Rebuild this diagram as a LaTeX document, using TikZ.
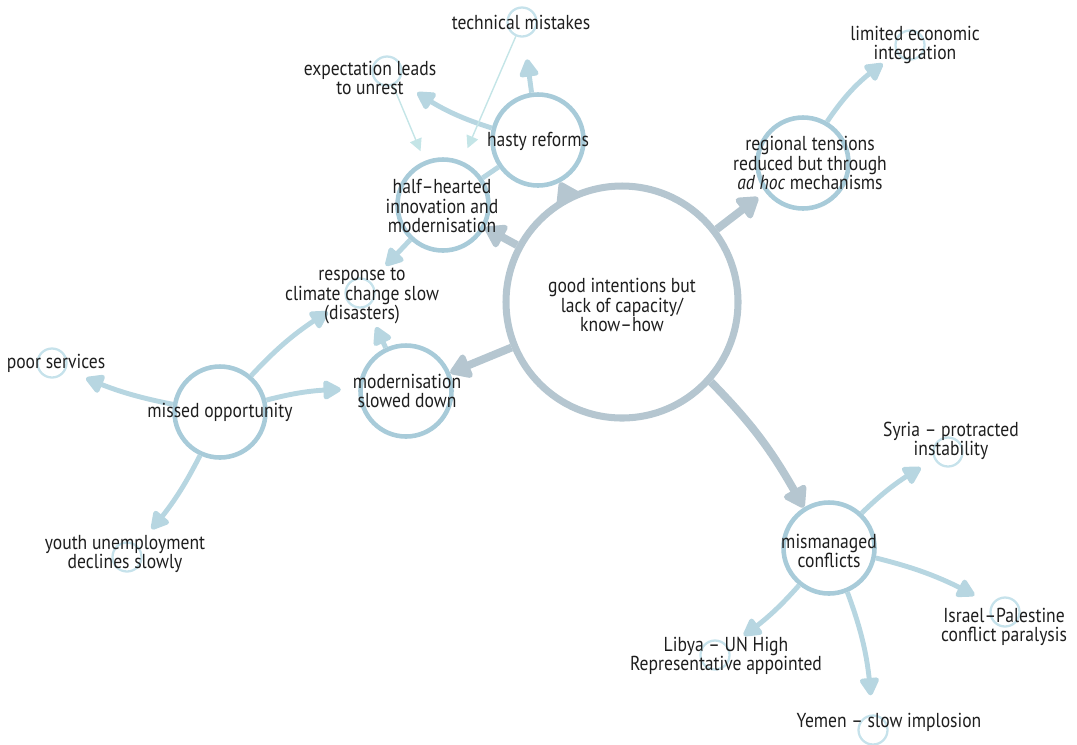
\documentclass[tikz,border=0pt]{standalone}
\usepackage{fontspec}
\setmainfont{PT Sans}[FakeStretch=0.87]
\usetikzlibrary{arrows.meta,bending}

\definecolor{slate}{RGB}{181,198,208}
\definecolor{ringc}{RGB}{168,203,217}
\definecolor{flow}{RGB}{183,214,225}
\definecolor{dotc}{RGB}{198,226,235}
\definecolor{faintc}{RGB}{196,229,231}
\definecolor{ink}{RGB}{30,30,30}

\begin{document}
\begin{tikzpicture}
			\tikzstyle{core} = [circle, draw=slate, line width=4pt, minimum size=4.64cm, inner sep=0pt]
			\tikzstyle{ring} = [circle, draw=ringc, line width=2.6pt, minimum size=1.82cm, inner sep=0pt]
			\tikzstyle{dot} = [circle, draw=dotc, line width=1.3pt, minimum size=0.58cm, inner sep=0pt]
			\tikzstyle{txt} = [text=ink, align=center, inner sep=0pt, font=\fontsize{11.5}{10.9}\selectfont]
			\tikzstyle{heavy} = [draw=slate, line width=4.5pt, -{Triangle[length=13pt,width=16pt,round]}]
			\tikzstyle{light} = [draw=flow, line width=2.8pt, -{Triangle[length=11.5pt,width=12pt,round]}]
			\tikzstyle{faint} = [draw=faintc, line width=0.8pt, -{Triangle[length=7pt,width=7pt]}]
			\tikzstyle{tosmall} = [shorten >=12.5pt]
			
			\useasboundingbox (0,0) rectangle (21.54,-14.88);
			
			\node (goodintentions) [core, xshift=12.44cm, yshift=-6.04cm] {};
			\node (hastyreforms) [ring, xshift=10.76cm, yshift=-2.80cm] {};
			\node (halfhearted) [ring, xshift=8.86cm, yshift=-4.10cm] {};
			\node (regionaltensions) [ring, xshift=16.06cm, yshift=-3.26cm] {};
			\node (modslowed) [ring, xshift=8.12cm, yshift=-7.82cm] {};
			\node (missedopp) [ring, xshift=4.40cm, yshift=-8.24cm] {};
			\node (mismanaged) [ring, xshift=16.58cm, yshift=-10.96cm] {};
			
			\node (technical) [dot, xshift=10.44cm, yshift=-0.44cm] {};
			\node (expectation) [dot, xshift=7.74cm, yshift=-1.42cm] {};
			\node (limitedecon) [dot, xshift=18.20cm, yshift=-0.90cm] {};
			\node (climate) [dot, xshift=7.20cm, yshift=-5.86cm] {};
			\node (poorservices) [dot, xshift=1.04cm, yshift=-7.26cm] {};
			\node (youth) [dot, xshift=2.54cm, yshift=-11.14cm] {};
			\node (syria) [dot, xshift=18.96cm, yshift=-9.04cm] {};
			\node (israel) [dot, xshift=20.10cm, yshift=-12.24cm] {};
			\node (libya) [dot, xshift=14.30cm, yshift=-13.10cm] {};
			\node (yemen) [dot, xshift=17.46cm, yshift=-14.60cm] {};
			
			\draw[heavy] (goodintentions) -- (halfhearted);
			\draw[heavy] (goodintentions) -- (hastyreforms);
			\draw[heavy, shorten >=5pt] (goodintentions) -- (regionaltensions);
			\draw[heavy] (goodintentions) -- (modslowed);
			\draw[heavy] (goodintentions) to[bend left=8] (mismanaged);
			
			\draw[light, tosmall] (hastyreforms) -- (technical);
			\draw[light, tosmall] (hastyreforms) to[bend left=10] (expectation);
			\draw[draw=flow, line width=2.8pt] (hastyreforms) -- (halfhearted);
			\draw[faint, shorten >=6pt] (expectation) -- (halfhearted);
			\draw[faint, shorten >=8pt] (technical) -- (halfhearted);
			\draw[light, tosmall] (halfhearted) -- (climate);
			\draw[light, tosmall] (modslowed) -- (climate);
			\draw[light, tosmall] (missedopp) to[bend left=9] (climate);
			\draw[light, shorten >=10pt] (missedopp) to[bend left=8] (modslowed);
			\draw[light, tosmall] (missedopp) to[bend left=7] (poorservices);
			\draw[light, tosmall] (missedopp) to[bend left=8] (youth);
			\draw[light, shorten >=10pt] (regionaltensions) to[bend left=12] (limitedecon);
			
			\draw[light, shorten >=9pt] (mismanaged) to[bend left=8] (syria);
			\draw[light, shorten >=11pt] (mismanaged) to[bend left=8] (israel);
			\draw[light, shorten >=11pt] (mismanaged) to[bend left=8] (libya);
			\draw[light, shorten >=11pt] (mismanaged) to[bend left=9] (yemen);
			
			\node (goodintentionstext) [txt, xshift=12.44cm, yshift=-6.10cm] {good intentions but\\lack of capacity/\\know--how};
			\node (hastytext) [txt, xshift=10.76cm, yshift=-2.82cm] {hasty reforms};
			\node (halftext) [txt, xshift=8.84cm, yshift=-4.12cm] {half--hearted\\innovation and\\modernisation};
			\node (regionaltext) [txt, xshift=16.20cm, yshift=-3.26cm] {regional tensions\\reduced but through\\\textit{ad hoc} mechanisms};
			\node (modslowedtext) [txt, xshift=8.14cm, yshift=-7.82cm] {modernisation\\slowed down};
			\node (missedtext) [txt, xshift=4.40cm, yshift=-8.24cm] {missed opportunity};
			\node (mismanagedtext) [txt, xshift=16.58cm, yshift=-11.02cm] {mismanaged\\conflicts};
			
			\node (technicaltext) [txt, xshift=10.42cm, yshift=-0.44cm] {technical mistakes};
			\node (expectationtext) [txt, xshift=7.40cm, yshift=-1.56cm] {expectation leads\\to unrest};
			\node (limitedtext) [txt, xshift=18.30cm, yshift=-0.90cm] {limited economic\\integration};
			\node (climatetext) [txt, xshift=7.24cm, yshift=-5.92cm] {response to\\climate change slow\\(disasters)};
			\node (poortext) [txt, xshift=1.12cm, yshift=-7.26cm] {poor services};
			\node (youthtext) [txt, xshift=2.50cm, yshift=-11.08cm] {youth unemployment\\declines slowly};
			\node (syriatext) [txt, xshift=19.02cm, yshift=-8.82cm] {Syria -- protracted\\instability};
			\node (israeltext) [txt, xshift=20.08cm, yshift=-12.54cm] {Israel--Palestine\\conflict paralysis};
			\node (libyatext) [txt, xshift=14.52cm, yshift=-13.12cm] {Libya -- UN High\\Representative appointed};
			\node (yementext) [txt, xshift=17.78cm, yshift=-14.44cm] {Yemen -- slow implosion};
			
	\end{tikzpicture}
\end{document}
